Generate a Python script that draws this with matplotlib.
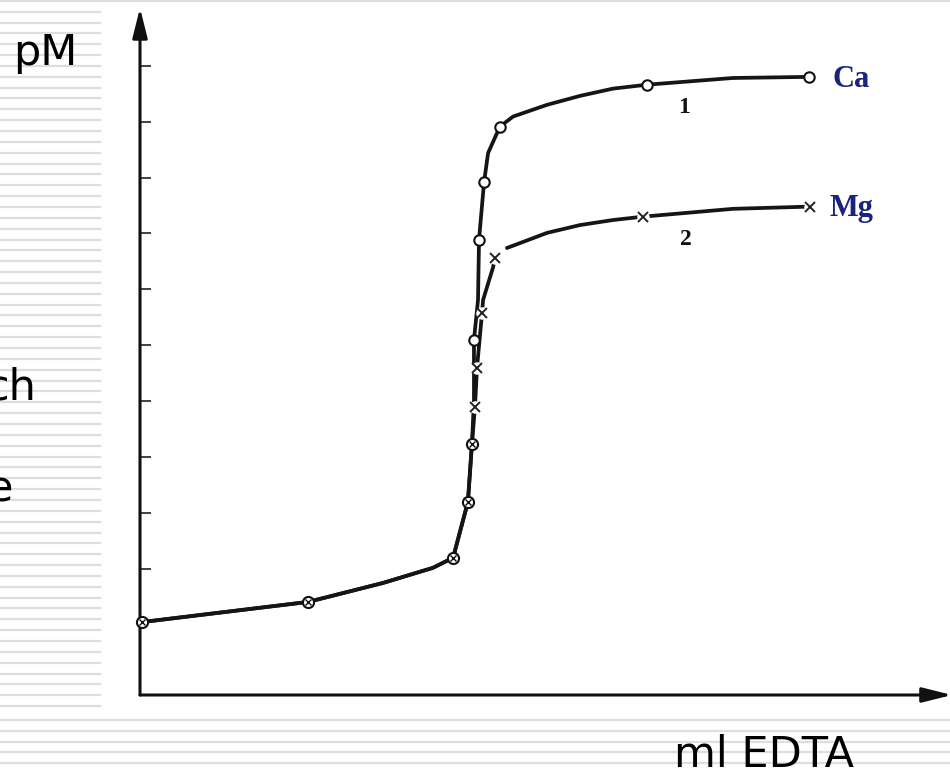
import numpy as np
import matplotlib
matplotlib.use("Agg")
import matplotlib.pyplot as plt
from matplotlib.lines import Line2D

# ---------------- data ----------------
# points common to both titration curves (circle with cross)
shared_x = [0.06, 4.99, 9.30, 9.74, 9.86]
shared_y = [1.05, 1.41, 2.20, 3.20, 4.24]

# curve 1 (Ca) open-circle points
ca_x = [9.92, 10.07, 10.22, 10.69, 15.06, 19.87]
ca_y = [6.10, 7.89, 8.92, 9.91, 10.66, 10.80]

# curve 2 (Mg) cross points
mg_x = [9.95, 10.01, 10.16, 10.54, 14.94, 19.90]
mg_y = [4.90, 5.60, 6.58, 7.56, 8.30, 8.48]

# traced course of the drawn curves
curve1_x = [0.06, 2.52, 4.99, 7.22, 8.70, 9.30, 9.74, 9.86, 9.92, 9.92, 10.04,
            10.07, 10.22, 10.34, 10.69, 11.08, 12.09, 13.07, 14.05, 15.06, 17.61, 19.87]
curve1_y = [1.05, 1.23, 1.41, 1.75, 2.02, 2.20, 3.20, 4.24, 5.02, 6.10, 6.81,
            7.89, 8.92, 9.44, 9.91, 10.09, 10.30, 10.46, 10.59, 10.66, 10.78, 10.80]
curve2_x = [0.06, 2.52, 4.99, 7.22, 8.70, 9.30, 9.74, 9.86, 9.95, 10.01, 10.16,
            10.19, 10.49, 10.54, np.nan, 10.90, 12.09, 13.07, 14.05, 14.94, 17.61, 19.90]
curve2_y = [1.05, 1.23, 1.41, 1.75, 2.02, 2.20, 3.20, 4.24, 4.90, 5.60, 6.58,
            6.81, 7.40, 7.56, np.nan, 7.74, 8.01, 8.15, 8.24, 8.30, 8.44, 8.48]

y_ticks = [2, 3, 4, 5, 6, 7, 8, 9, 10, 11]

# ---------------- figure ----------------
W, H = 950, 773
fig = plt.figure(figsize=(W / 100, H / 100), dpi=100, facecolor="white")

# slide background stripes
stripe_col = "#dedede"
for yy in np.arange(11.7, 712, 10.85):
    fig.add_artist(Line2D([0, 100 / W], [1 - yy / H] * 2, color=stripe_col, lw=1.6, zorder=0))
for yy in [720, 731, 742, 752, 763]:
    fig.add_artist(Line2D([0, 1], [1 - yy / H] * 2, color=stripe_col, lw=1.6, zorder=0))
fig.add_artist(Line2D([0, 1], [1 - 1 / H] * 2, color=stripe_col, lw=1.6, zorder=0))

ax = fig.add_axes([140 / W, 78 / H, 808 / W, 683 / H])
ax.set_xlim(0, 24)
ax.set_ylim(-0.254, 11.96)
for s in ax.spines.values():
    s.set_visible(False)
ax.set_xticks([])
ax.set_yticks(y_ticks)
ax.set_yticklabels([])
ax.tick_params(axis="y", direction="in", length=8, width=1.3, color="#333333")

# axis arrows
arrow_kw = dict(arrowstyle="-|>,head_length=1.0,head_width=0.25", mutation_scale=18,
                lw=2.2, color="#111111", shrinkA=0, shrinkB=0)
ax.annotate("", xy=(0, 1.006), xytext=(0, 0), xycoords="axes fraction",
            textcoords="axes fraction", arrowprops=arrow_kw, annotation_clip=False)
ax.annotate("", xy=(1.005, 0), xytext=(0, 0), xycoords="axes fraction",
            textcoords="axes fraction", arrowprops=arrow_kw, annotation_clip=False)

line_col = "#151515"
ax.plot(curve1_x, curve1_y, color=line_col, lw=2.7, solid_capstyle="round", zorder=2)
ax.plot(curve2_x, curve2_y, color=line_col, lw=2.7, solid_capstyle="round", zorder=2)

# cross markers with white halo (line gaps)
ax.plot(mg_x, mg_y, ls="none", marker="o", ms=9, mfc="white", mec="none", zorder=3)
ax.plot(mg_x, mg_y, ls="none", marker="x", ms=6.5, mew=1.4, color="#222222", zorder=4)

# open circles
ax.plot(ca_x, ca_y, ls="none", marker="o", ms=7.5, mfc="white", mec="#111111",
        mew=1.5, zorder=4)

# shared circle-cross markers
ax.plot(shared_x, shared_y, ls="none", marker="o", ms=8, mfc="white", mec="#111111",
        mew=1.5, zorder=4, clip_on=False)
ax.plot(shared_x, shared_y, ls="none", marker="x", ms=4.2, mew=1.0, color="#111111",
        zorder=5, clip_on=False)

serif = ["Liberation Serif", "DejaVu Serif"]
navy = "#1a237e"
ax.annotate("Ca", xy=(ca_x[-1], ca_y[-1]), xytext=(17, -7), textcoords="offset points",
            ha="left", va="baseline", family=serif, fontweight="bold", fontsize=22,
            color=navy)
ax.annotate("Mg", xy=(mg_x[-1], mg_y[-1]), xytext=(14, -7), textcoords="offset points",
            ha="left", va="baseline", family=serif, fontweight="bold", fontsize=22,
            color=navy)
ax.text(16.16, 10.16, "1", ha="center", va="baseline", family=serif,
        fontweight="bold", fontsize=17, color="#111111")
ax.text(16.22, 7.80, "2", ha="center", va="baseline", family=serif,
        fontweight="bold", fontsize=17, color="#111111")

sans = ["DejaVu Sans"]
fig.text(13 / W, 1 - 65 / H, "pM", ha="left", va="baseline", family=sans, fontsize=31)
fig.text(36 / W, 1 - 400 / H, "ch", ha="right", va="baseline", family=sans, fontsize=31)
fig.text(13 / W, 1 - 501 / H, "e", ha="right", va="baseline", family=sans, fontsize=31)
fig.text(674 / W, 1 - 767 / H, "ml EDTA", ha="left", va="baseline", family=sans, fontsize=31)

fig.savefig("out.png", dpi=100, facecolor="white")
